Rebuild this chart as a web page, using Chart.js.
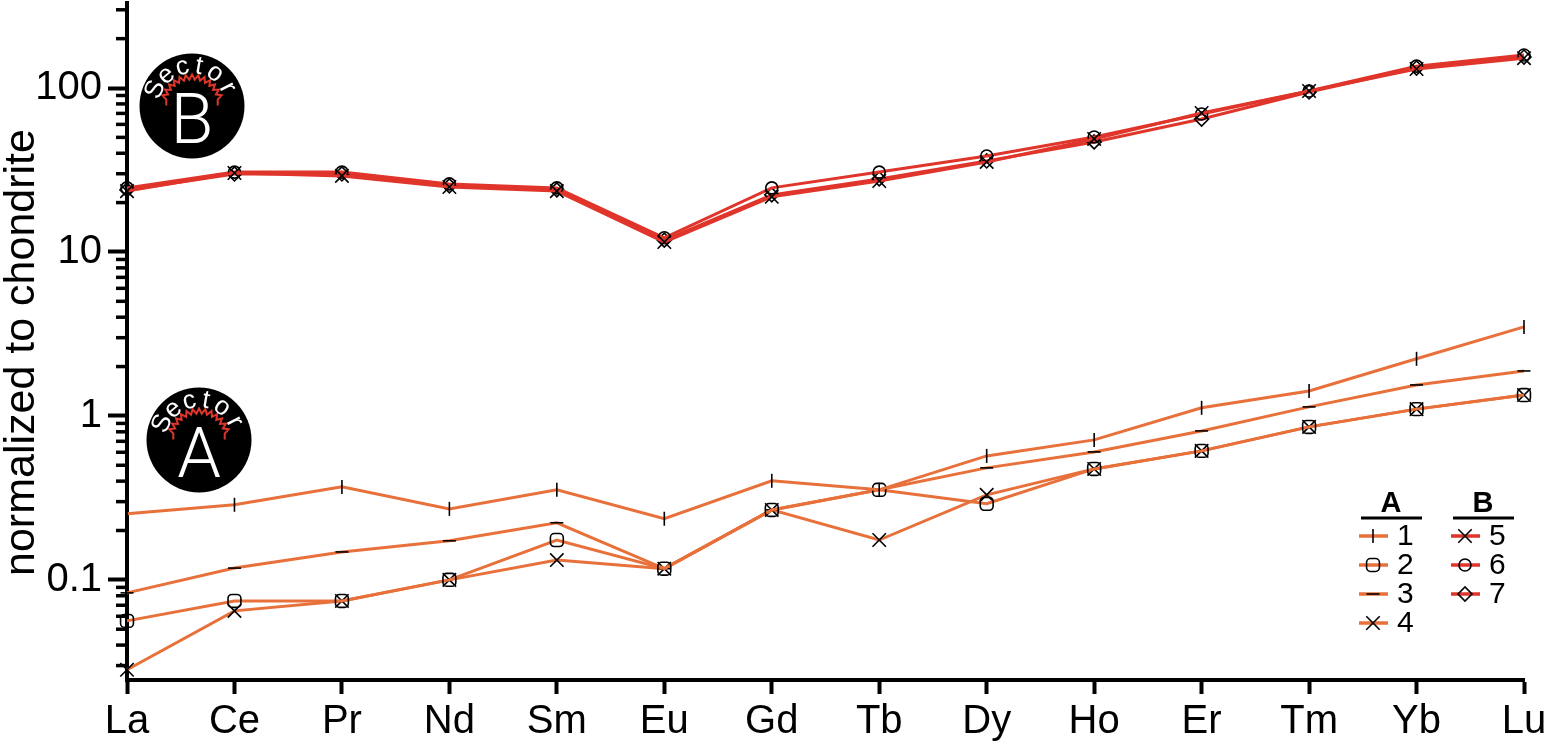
<!DOCTYPE html>
<html><head><meta charset="utf-8">
<script src="https://cdn.jsdelivr.net/npm/chart.js@4/dist/chart.umd.min.js"></script>
<style>html,body{margin:0;padding:0;background:#fff;overflow:hidden}#wrap{position:relative;width:1547px;height:747px}</style>
</head><body><div id="wrap"><canvas id="c"></canvas></div>
<script>
const elements = ['La','Ce','Pr','Nd','Sm','Eu','Gd','Tb','Dy','Ho','Er','Tm','Yb','Lu'];
const yMajorTicks = [0.1, 1, 10, 100];
const yTickLabels = ['0.1', '1', '10', '100'];
const yTitle = 'normalized to chondrite';

// Sector A
const s1 = [0.253,0.287,0.369,0.271,0.354,0.236,0.402,0.354,0.570,0.714,1.12,1.42,2.23,3.49];
const s2 = [0.0562,0.0744,0.0744,0.100,0.175,0.117,0.267,0.354,0.291,0.475,0.612,0.857,1.10,1.34];
const s3 = [0.0833,0.118,0.148,0.173,0.223,0.117,0.267,0.354,0.482,0.603,0.810,1.135,1.545,1.88];
const s4 = [0.0283,0.0647,0.0744,0.100,0.132,0.117,0.267,0.175,0.330,0.475,0.612,0.857,1.10,1.34];
// Sector B
const s5 = [23.5,30.3,29.1,24.9,23.5,11.5,21.7,27.1,35.4,48.9,70.4,95.9,130.6,152];
const s6 = [24.6,30.7,30.7,26.0,24.6,12.2,24.6,30.7,38.5,50.3,69.4,95.9,136,159];
const s7 = [23.9,29.9,29.9,25.3,23.9,11.8,22.3,27.9,35.9,46.9,64.7,94.6,132.4,154.5];

const groupA = 'A', groupB = 'B';
const ORANGE = '#E8703A', RED = '#E0352B';
const FONT = "'Liberation Sans', Arial, Helvetica, sans-serif";
Chart.defaults.font.family = FONT;
Chart.defaults.color = '#000';

function ds(label, data, group, style, radius, rot) {
  return {
    label, data, group,
    borderColor: group === groupA ? ORANGE : RED,
    borderWidth: 3,
    pointStyle: style,
    pointRotation: rot || 0,
    pointRadius: radius,
    pointHoverRadius: radius,
    pointBorderColor: '#000',
    pointBackgroundColor: 'rgba(0,0,0,0)',
    pointBorderWidth: 1.6,
    tension: 0,
    clip: false
  };
}

const datasets = [
  ds('1', s1, groupA, 'line', 7, 90),
  ds('2', s2, groupA, 'rectRounded', 7.5),
  ds('3', s3, groupA, 'line', 6.5),
  ds('4', s4, groupA, 'crossRot', 9.5),
  ds('5', s5, groupB, 'crossRot', 9.5),
  ds('6', s6, groupB, 'circle', 6),
  ds('7', s7, groupB, 'rectRot', 7)
];

const yMin = 0.0245, yMax = 330;
function buildYTicks() {
  const out = [];
  const decades = [0.01].concat(yMajorTicks);
  decades.forEach(d => {
    for (let k = 1; k <= 9; k++) {
      const v = +(d * k).toPrecision(6);
      if (v >= yMin && v <= yMax) {
        const mi = yMajorTicks.indexOf(v);
        out.push({ value: v, lbl: mi >= 0 ? yTickLabels[mi] : '' });
      }
    }
  });
  return out;
}

function drawMarker(ctx, style, rot, radius, x, y) {
  const opts = { pointStyle: style, rotation: rot || 0, radius: radius, borderWidth: 1.6 };
  ctx.save();
  ctx.strokeStyle = '#000';
  ctx.fillStyle = 'rgba(0,0,0,0)';
  ctx.lineWidth = 1.6;
  if (Chart.helpers && Chart.helpers.drawPoint) {
    Chart.helpers.drawPoint(ctx, opts, x, y);
  }
  ctx.restore();
}

function drawBadge(ctx, cx, cy, letter) {
  const R = 52.5;
  ctx.save();
  ctx.beginPath();
  ctx.arc(cx, cy, R, 0, Math.PI * 2);
  ctx.fillStyle = '#000';
  ctx.fill();
  // red zigzag arc
  ctx.beginPath();
  const a0 = -166 * Math.PI / 180, a1 = -14 * Math.PI / 180, n = 26;
  for (let i = 0; i <= n; i++) {
    const a = a0 + (a1 - a0) * i / n;
    const r = 29 + (i % 2 ? 2.5 : -2.5);
    const px = cx + r * Math.cos(a), py = cy + r * Math.sin(a);
    if (i === 0) ctx.moveTo(px, py + 6);
    ctx.lineTo(px, py);
  }
  ctx.lineTo(cx + 26.5 * Math.cos(a1), cy + 26.5 * Math.sin(a1) + 6);
  ctx.strokeStyle = RED;
  ctx.lineWidth = 2;
  ctx.lineJoin = 'miter';
  ctx.stroke();
  // "Sector" along the arc
  const word = 'Sector';
  const angs = [-156, -130, -104, -80, -55, -27];
  ctx.fillStyle = '#fff';
  ctx.font = '26px ' + FONT;
  ctx.textAlign = 'center';
  ctx.textBaseline = 'middle';
  for (let i = 0; i < word.length; i++) {
    const a = angs[i] * Math.PI / 180;
    ctx.save();
    ctx.translate(cx + 40 * Math.cos(a), cy + 40 * Math.sin(a));
    ctx.rotate(a + Math.PI / 2);
    ctx.fillText(word[i], 0, 0);
    ctx.restore();
  }
  // big letter
  ctx.font = '300 70px Roboto, ' + FONT;
  ctx.textBaseline = 'alphabetic';
  ctx.fillText(letter, cx, cy + 37);
  ctx.restore();
}

const decorPlugin = {
  id: 'decor',
  afterDraw(chart) {
    const ctx = chart.ctx;
    const ys = chart.scales.y;
    const ca = chart.chartArea;
    // minor y ticks
    ctx.save();
    ctx.strokeStyle = '#000';
    ctx.lineWidth = 3.5;
    ys.ticks.forEach(t => {
      if (t.lbl) return;
      const py = ys.getPixelForValue(t.value);
      ctx.beginPath();
      ctx.moveTo(ca.left - 11, py);
      ctx.lineTo(ca.left, py);
      ctx.stroke();
    });
    ctx.restore();

    // y axis title
    ctx.save();
    ctx.fillStyle = '#000';
    ctx.font = '43px ' + FONT;
    ctx.textAlign = 'center';
    ctx.textBaseline = 'middle';
    ctx.translate(22, (ca.top + ca.bottom) / 2 + 11);
    ctx.rotate(-Math.PI / 2);
    ctx.fillText(yTitle, 0, 0);
    ctx.restore();

    // badges
    drawBadge(ctx, ca.left + 65, ca.top + 103, 'B');
    drawBadge(ctx, ca.left + 72, ca.top + 437, 'A');

    // legend
    const cols = [
      { name: groupA, x: ca.right - 163 },
      { name: groupB, x: ca.right - 71 }
    ];
    const top = ca.top + 495;
    ctx.save();
    cols.forEach(col => {
      const items = chart.data.datasets.filter(d => d.group === col.name);
      ctx.fillStyle = '#000';
      ctx.font = 'bold 29px ' + FONT;
      ctx.textAlign = 'center';
      ctx.textBaseline = 'alphabetic';
      ctx.fillText(col.name, col.x + 30, top + 14);
      ctx.beginPath();
      ctx.moveTo(col.x, top + 20);
      ctx.lineTo(col.x + 61, top + 20);
      ctx.lineWidth = 3;
      ctx.strokeStyle = '#000';
      ctx.stroke();
      items.forEach((d, i) => {
        const yy = top + 38 + i * 29;
        ctx.beginPath();
        ctx.moveTo(col.x - 2, yy);
        ctx.lineTo(col.x + 27, yy);
        ctx.strokeStyle = d.borderColor;
        ctx.lineWidth = 3.5;
        ctx.stroke();
        drawMarker(ctx, d.pointStyle, d.pointRotation, d.pointRadius, col.x + 12, yy);
        ctx.fillStyle = '#000';
        ctx.font = '30px ' + FONT;
        ctx.textAlign = 'left';
        ctx.textBaseline = 'middle';
        ctx.fillText(d.label, col.x + 36, yy + 1);
      });
    });
    ctx.restore();
  }
};

new Chart(document.getElementById('c'), {
  type: 'line',
  data: { labels: elements, datasets },
  plugins: [decorPlugin],
  options: {
    responsive: true,
    maintainAspectRatio: false,
    animation: false,
    events: [],
    layout: { autoPadding: false, padding: { top: 3, right: 23, left: 0, bottom: 0 } },
    plugins: { legend: { display: false }, tooltip: { enabled: false } },
    scales: {
      x: {
        type: 'category',
        offset: false,
        grid: { drawOnChartArea: false, drawTicks: true, tickLength: 14, tickWidth: 4, tickColor: '#000', color: '#000' },
        border: { display: true, width: 4, color: '#000' },
        ticks: { font: { size: 40 }, color: '#000', padding: 4, maxRotation: 0, autoSkip: false },
        afterFit(s) { s.height = 67; s.paddingLeft = 0; s.paddingRight = 0; }
      },
      y: {
        type: 'logarithmic',
        min: yMin, max: yMax,
        afterBuildTicks(s) { s.ticks = buildYTicks(); },
        grid: {
          drawOnChartArea: false, drawTicks: true, tickLength: 19, tickWidth: 4,
          tickColor: c => (c.tick && c.tick.lbl) ? '#000' : 'rgba(0,0,0,0)'
        },
        border: { display: true, width: 4, color: '#000' },
        ticks: {
          autoSkip: false, font: { size: 40 }, color: '#000', padding: 6,
          callback: (v, i, ticks) => ticks[i].lbl || ''
        },
        title: { display: false, text: yTitle },
        afterFit(s) { s.width = 127; s.paddingTop = 0; s.paddingBottom = 0; }
      }
    }
  }
});
</script></body></html>
